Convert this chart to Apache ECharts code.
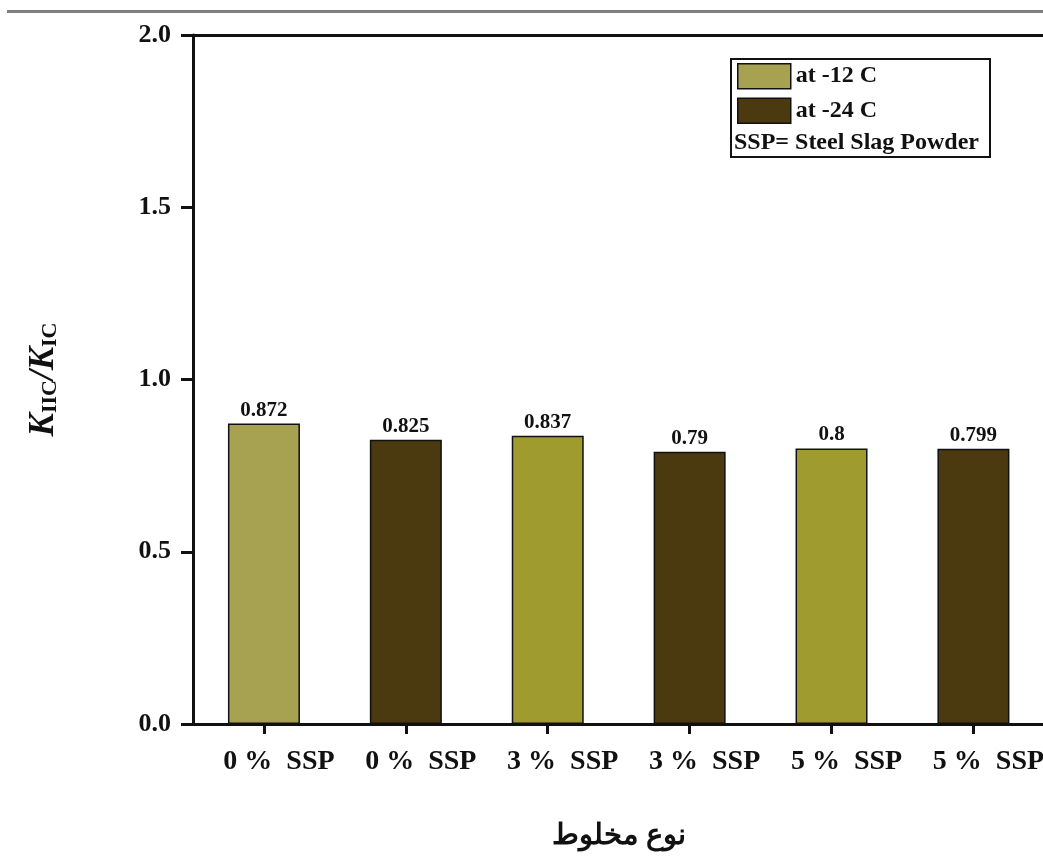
<!DOCTYPE html>
<html>
<head>
<meta charset="utf-8">
<script src="https://cdn.jsdelivr.net/npm/echarts@6/dist/echarts.min.js"></script>
<style>
html,body{margin:0;padding:0;background:#fff;overflow:hidden;}
#c{width:1047px;height:868px;}
</style>
</head>
<body>
<div id="c"></div>
<script>
const categories = ['0 %  SSP','0 %  SSP','3 %  SSP','3 %  SSP','5 %  SSP','5 %  SSP'];
const seriesNames = ['at -12 C','at -24 C'];
const valuesMinus12 = [0.872, '-', 0.837, '-', 0.8, '-'];
const valuesMinus24 = ['-', 0.825, '-', 0.79, '-', 0.799];
const yTicks = { min: 0, max: 2.0, interval: 0.5 };
const xAxisTitle = 'نوع مخلوط';
const noteText = 'SSP= Steel Slag Powder';

const serif = '"Liberation Serif","Times New Roman",serif';
const colLight = '#a6a252';
const colOlive = '#9f9b2e';
const colDark = '#4b390f';

const chart = echarts.init(document.getElementById('c'));
const labelCfg = {
  show: true, position: 'top', distance: 3,
  fontFamily: serif, fontWeight: 'bold', fontSize: 21, color: '#111',
  formatter: p => String(p.value)
};
chart.setOption({
  animation: false,
  backgroundColor: '#fff',
  grid: { left: 193, top: 35, right: 2, bottom: 144, containLabel: false },
  legend: {
    orient: 'vertical', left: 737, top: 63,
    itemWidth: 53, itemHeight: 25, itemGap: 8, padding: 0,
    icon: 'rect',
    textStyle: { fontFamily: serif, fontWeight: 'bold', fontSize: 24, color: '#111' },
    itemStyle: { borderColor: '#111', borderWidth: 1.5 },
    data: [
      { name: seriesNames[0], icon: 'rect', itemStyle: { color: colLight } },
      { name: seriesNames[1], icon: 'rect', itemStyle: { color: colDark } }
    ]
  },
  graphic: [
    { type: 'rect', shape: { x: 7, y: 10, width: 1040, height: 3 }, style: { fill: '#7f7f7f' }, silent: true },
    { type: 'rect', shape: { x: 731, y: 59, width: 259, height: 98 }, style: { fill: 'none', stroke: '#111', lineWidth: 2 }, z: 10 },
    { type: 'text', left: 734, top: 131, style: { text: noteText, font: 'bold 24px ' + serif, fill: '#111' }, z: 10 }
  ],
  xAxis: [{
    type: 'category', data: categories,
    axisLine: { show: true, lineStyle: { color: '#111', width: 3 } },
    axisTick: { show: true, alignWithLabel: true, length: 10, lineStyle: { color: '#111', width: 3 } },
    axisLabel: { fontFamily: serif, fontWeight: 'bold', fontSize: 28, color: '#111', margin: 24, padding: [0,0,0,30], interval: 0 },
    name: xAxisTitle, nameLocation: 'middle', nameGap: 98,
    nameTextStyle: { fontFamily: serif, fontSize: 29, fontWeight: 'bold', color: '#111' }
  }, {
    type: 'category', position: 'top', data: categories,
    axisLine: { show: true, lineStyle: { color: '#111', width: 3 } },
    axisTick: { show: false }, axisLabel: { show: false }
  }],
  yAxis: {
    type: 'value', min: yTicks.min, max: yTicks.max, interval: yTicks.interval,
    splitLine: { show: false },
    axisLine: { show: true, lineStyle: { color: '#111', width: 3 } },
    axisTick: { show: true, length: 12, lineStyle: { color: '#111', width: 3 } },
    axisLabel: { fontFamily: serif, fontWeight: 'bold', fontSize: 26, color: '#111', margin: 22, formatter: v => v.toFixed(1) },
    name: '{k|K}{s|IIC}{k|/K}{s|IC}', nameLocation: 'middle', nameGap: 132, nameRotate: 90,
    nameTextStyle: {
      color: '#111',
      rich: {
        k: { fontFamily: serif, fontWeight: 'bold', fontStyle: 'italic', fontSize: 35, color: '#111', verticalAlign: 'bottom', lineHeight: 38 },
        s: { fontFamily: serif, fontWeight: 'bold', fontSize: 22, color: '#111', verticalAlign: 'bottom', lineHeight: 20 }
      }
    }
  },
  series: [
    {
      name: seriesNames[0], type: 'bar', stack: 'all', barWidth: 72,
      data: valuesMinus12.map((v, i) => ({ value: v, itemStyle: { color: i === 0 ? colLight : colOlive } })),
      itemStyle: { color: colLight, borderColor: '#111', borderWidth: 1.5 },
      label: labelCfg
    },
    {
      name: seriesNames[1], type: 'bar', stack: 'all', barWidth: 72,
      data: valuesMinus24,
      itemStyle: { color: colDark, borderColor: '#111', borderWidth: 1.5 },
      label: labelCfg
    }
  ]
});
</script>
</body>
</html>
